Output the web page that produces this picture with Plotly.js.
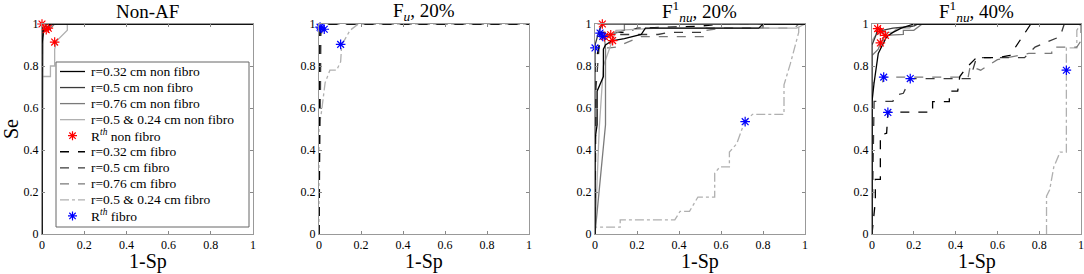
<!DOCTYPE html>
<html><head><meta charset="utf-8">
<script src="https://cdn.plot.ly/plotly-3.0.1.min.js"></script>
<style>body{margin:0;background:#fff}#plot{width:1084px;height:274px}</style>
</head><body><div id="plot"></div>
<script>
// ---------- data ----------
const panelTitles = ["Non-AF", "F<sub><i>u</i></sub>, 20%", "F<sup>1</sup><sub><i>nu</i></sub>, 20%", "F<sup>1</sup><sub><i>nu</i></sub>, 40%"];
const seriesNames = ["r=0.32 cm non fibro", "r=0.5 cm non fibro", "r=0.76 cm non fibro", "r=0.5 &amp; 0.24 cm non fibro",
  "R<sup><i>th</i></sup> non fibro", "r=0.32 cm fibro", "r=0.5 cm fibro", "r=0.76 cm fibro", "r=0.5 &amp; 0.24 cm fibro", "R<sup><i>th</i></sup> fibro"];
const tickVals = [0, 0.2, 0.4, 0.6, 0.8, 1];
const tickText = ["0", "0.2", "0.4", "0.6", "0.8", "1"];

// Panel 1: Non-AF
const p1_nf032_x = [0, 0, 0.005, 0.01, 0.02, 1];
const p1_nf032_y = [0, 0.9, 0.95, 0.98, 1, 1];
const p1_nf05_x = [0, 0, 0.01, 0.03, 0.05, 1];
const p1_nf05_y = [0, 0.93, 0.97, 0.99, 1, 1];
const p1_nf076_x = [0, 0.005, 0.02, 0.04, 0.06, 1];
const p1_nf076_y = [0, 0.96, 0.97, 0.98, 1, 1];
const p1_nf0524_x = [0, 0, 0.04, 0.04, 0.06, 0.06, 0.07, 0.1, 0.12, 0.12, 1];
const p1_nf0524_y = [0, 0.75, 0.75, 0.8, 0.8, 0.88, 0.92, 0.95, 0.97, 1, 1];
const p1_f_x = [0, 0, 1];
const p1_f_y = [0, 1, 1];
const p1_rth_nf_x = [0, 0.02, 0.03, 0.06];
const p1_rth_nf_y = [1, 0.973, 0.98, 0.914];

// Panel 2: F_u 20%
const p2_f032_x = [0, 0.005, 0.01, 0.02, 1];
const p2_f032_y = [0, 0.95, 0.98, 1, 1];
const p2_f05_x = [0, 0.003, 0.008, 0.015, 1];
const p2_f05_y = [0, 0.96, 0.985, 1, 1];
const p2_f076_x = [0, 0.01, 0.02, 0.03, 1];
const p2_f076_y = [0, 0.95, 0.975, 1, 1];
const p2_f0524_x = [0, 0, 0.013, 0.029, 0.052, 0.084, 0.103, 0.108, 0.148, 0.187, 1];
const p2_f0524_y = [0, 0.5, 0.59, 0.72, 0.78, 0.78, 0.82, 0.9, 0.97, 1, 1];
const p2_rth_f_x = [0.005, 0.01, 0.025, 0.103];
const p2_rth_f_y = [0.985, 0.98, 0.975, 0.903];

// Panel 3: F1nu 20%
const p3_nf032_x = [0, 0, 0.01, 0.01, 0.04, 0.04, 0.05, 0.08, 0.14, 0.22, 0.24, 0.78, 0.8, 1];
const p3_nf032_y = [0, 0.45, 0.52, 0.68, 0.75, 0.88, 0.9, 0.92, 0.93, 0.95, 0.98, 0.98, 1, 1];
const p3_nf05_x = [0, 0, 0.02, 0.035, 0.05, 1];
const p3_nf05_y = [0, 0.9, 0.97, 1, 1, 1];
const p3_nf076_x = [0, 0.05, 0.05, 0.05, 0.045, 0.075, 0.1, 0.14, 0.14, 1];
const p3_nf076_y = [0, 0.52, 0.58, 0.88, 0.94, 0.95, 0.96, 0.97, 1, 1];
const p3_nf0524_x = [0, 0.02, 0.04, 0.084, 0.1, 0.3, 0.96, 1];
const p3_nf0524_y = [0, 0.5, 0.8, 0.921, 0.97, 0.98, 0.98, 1];
const p3_f032_x = [0, 0, 0.02, 0.024, 0.04, 0.15, 0.2, 0.5, 0.6, 1];
const p3_f032_y = [0, 0.8, 0.9, 0.957, 0.96, 0.96, 0.98, 0.99, 1, 1];
const p3_f05_x = [0, 0.005, 0.02, 0.037, 0.1, 0.3, 0.35, 0.53, 0.53, 0.8, 0.8, 1];
const p3_f05_y = [0, 0.7, 0.9, 0.941, 0.95, 0.95, 0.96, 0.96, 0.98, 0.98, 1, 1];
const p3_f076_x = [0, 0, 0.07, 0.1, 0.22, 0.53, 0.53, 0.6, 0.95, 0.97, 1];
const p3_f076_y = [0, 0.886, 0.886, 0.89, 0.94, 0.94, 0.97, 0.98, 0.98, 1, 1];
const p3_f0524_x = [0, 0, 0.12, 0.12, 0.38, 0.405, 0.45, 0.49, 0.57, 0.57, 0.595, 0.64, 0.64, 0.675, 0.7, 0.715, 0.75, 0.9, 0.9, 0.93, 0.97, 0.97, 1];
const p3_f0524_y = [0, 0.033, 0.033, 0.067, 0.067, 0.108, 0.108, 0.176, 0.176, 0.29, 0.32, 0.32, 0.39, 0.43, 0.5, 0.535, 0.57, 0.57, 0.71, 0.81, 0.96, 1, 1];
const p3_rth_nf_x = [0.035, 0.045, 0.075, 0.084];
const p3_rth_nf_y = [1, 0.94, 0.949, 0.921];
const p3_rth_f_x = [0.024, 0.037, 0.0, 0.715];
const p3_rth_f_y = [0.957, 0.941, 0.886, 0.535];

// Panel 4: F1nu 40%
const p4_nf032_x = [0, 0, 0.01, 0.02, 0.03, 0.05, 0.07, 0.1, 0.14, 0.2, 1];
const p4_nf032_y = [0, 0.63, 0.72, 0.8, 0.86, 0.9, 0.94, 0.96, 0.98, 1, 1];
const p4_nf05_x = [0, 0, 0.02, 0.027, 0.05, 0.1, 0.2, 0.22, 1];
const p4_nf05_y = [0, 0.9, 0.95, 0.978, 0.97, 0.98, 0.99, 1, 1];
const p4_nf076_x = [0, 0, 0.03, 0.04, 0.064, 0.15, 0.15, 0.2, 0.24, 1];
const p4_nf076_y = [0, 0.85, 0.88, 0.91, 0.946, 0.95, 0.97, 0.97, 1, 1];
const p4_nf0524_x = [0, 0, 0.02, 0.06, 0.1, 0.12, 0.18, 0.2, 1];
const p4_nf0524_y = [0, 0.92, 0.95, 0.96, 0.96, 0.98, 0.98, 1, 1];
const p4_f032_x = [0, 0.016, 0.016, 0.04, 0.04, 0.07, 0.076, 0.29, 0.29, 0.37, 0.37, 0.41, 0.42, 0.45, 0.5, 0.6, 0.66, 0.74, 0.76, 1];
const p4_f032_y = [0, 0.156, 0.26, 0.26, 0.47, 0.48, 0.58, 0.58, 0.63, 0.63, 0.68, 0.68, 0.75, 0.79, 0.84, 0.84, 0.85, 0.97, 1, 1];
const p4_f05_x = [0, 0.01, 0.01, 0.1, 0.11, 0.15, 0.183, 0.2, 0.47, 0.5, 0.6, 0.73, 0.78, 0.9, 0.92, 1];
const p4_f05_y = [0, 0.6, 0.632, 0.632, 0.66, 0.67, 0.74, 0.74, 0.74, 0.84, 0.84, 0.84, 0.89, 0.94, 1, 1];
const p4_f076_x = [0, 0, 0.05, 0.056, 0.46, 0.47, 0.52, 0.6, 0.75, 0.86, 0.86, 0.98, 1, 1];
const p4_f076_y = [0, 0.72, 0.72, 0.747, 0.747, 0.8, 0.78, 0.83, 0.86, 0.86, 0.89, 0.89, 0.92, 1];
const p4_f0524_x = [0.835, 0.835, 0.85, 0.87, 0.9, 0.93, 0.93, 0.93, 0.98, 0.98, 1];
const p4_f0524_y = [0, 0.18, 0.21, 0.32, 0.39, 0.39, 0.78, 0.886, 0.886, 0.97, 1];
const p4_rth_nf_x = [0.027, 0.04, 0.064, 0.04];
const p4_rth_nf_y = [0.978, 0.965, 0.946, 0.91];
const p4_rth_f_x = [0.056, 0.183, 0.076, 0.93];
const p4_rth_f_y = [0.747, 0.74, 0.579, 0.78];

// ---------- styling ----------
const W = 1084, PLOT_TOP = 24, PLOT_BOT = 234;
const greys = ["#000000", "#3a3a3a", "#7a7a7a", "#b0b0b0"];
const FONT = "Liberation Serif, DejaVu Serif, serif";
const starPath = "M-4.5,0L4.5,0M0,-4.5L0,4.5M-3.2,-3.2L3.2,3.2M-3.2,3.2L3.2,-3.2";
function dashOf(k, dash) { return dash ? (k === 3 ? "dashdot" : "dash") : "solid"; }
const traces = [];
function line(x, y, k, dash, ax) {
  const idx = dash ? 5 + k : k;
  traces.push({x, y, type: "scatter", mode: "lines", xaxis: "x" + ax, yaxis: "y" + ax,
    name: seriesNames[idx], showlegend: false,
    line: {color: greys[k], width: 1.3, dash: dashOf(k, dash)}, hoverinfo: "skip"});
}
function stars(x, y, color, ax, idx) {
  traces.push({x, y, type: "scatter", mode: "markers", xaxis: "x" + ax, yaxis: "y" + ax,
    name: seriesNames[idx], showlegend: false, cliponaxis: false,
    marker: {symbol: "asterisk-open", size: 8, color: color, line: {color: color, width: 1.2}}, hoverinfo: "skip"});
}
// panel 1
line(p1_f_x, p1_f_y, 3, true, 1);
line(p1_f_x, p1_f_y, 2, true, 1);
line(p1_f_x, p1_f_y, 1, true, 1);
line(p1_f_x, p1_f_y, 0, true, 1);
line(p1_nf0524_x, p1_nf0524_y, 3, false, 1);
line(p1_nf076_x, p1_nf076_y, 2, false, 1);
line(p1_nf05_x, p1_nf05_y, 1, false, 1);
line(p1_nf032_x, p1_nf032_y, 0, false, 1);
stars(p1_rth_nf_x, p1_rth_nf_y, "#ff0000", 1, 4);
// panel 2
line(p2_f0524_x, p2_f0524_y, 3, true, 2);
line(p2_f076_x, p2_f076_y, 2, true, 2);
line(p2_f05_x, p2_f05_y, 1, true, 2);
line(p2_f032_x, p2_f032_y, 0, true, 2);
stars(p2_rth_f_x, p2_rth_f_y, "#0000ff", 2, 9);
// panel 3
line(p3_f0524_x, p3_f0524_y, 3, true, 3);
line(p3_f076_x, p3_f076_y, 2, true, 3);
line(p3_f05_x, p3_f05_y, 1, true, 3);
line(p3_f032_x, p3_f032_y, 0, true, 3);
line(p3_nf0524_x, p3_nf0524_y, 3, false, 3);
line(p3_nf076_x, p3_nf076_y, 2, false, 3);
line(p3_nf05_x, p3_nf05_y, 1, false, 3);
line(p3_nf032_x, p3_nf032_y, 0, false, 3);
stars(p3_rth_nf_x, p3_rth_nf_y, "#ff0000", 3, 4);
stars(p3_rth_f_x, p3_rth_f_y, "#0000ff", 3, 9);
// panel 4
line(p4_f0524_x, p4_f0524_y, 3, true, 4);
line(p4_f076_x, p4_f076_y, 2, true, 4);
line(p4_f05_x, p4_f05_y, 1, true, 4);
line(p4_f032_x, p4_f032_y, 0, true, 4);
line(p4_nf0524_x, p4_nf0524_y, 3, false, 4);
line(p4_nf076_x, p4_nf076_y, 2, false, 4);
line(p4_nf05_x, p4_nf05_y, 1, false, 4);
line(p4_nf032_x, p4_nf032_y, 0, false, 4);
stars(p4_rth_nf_x, p4_rth_nf_y, "#ff0000", 4, 4);
stars(p4_rth_f_x, p4_rth_f_y, "#0000ff", 4, 9);

const domains = [[42/W, 253/W], [319/W, 529/W], [595/W, 805/W], [872/W, 1081/W]];
const py = p => (PLOT_BOT - p) / (PLOT_BOT - PLOT_TOP);
const layout = {width: W, height: 274, margin: {l: 0, r: 0, t: PLOT_TOP, b: 274 - PLOT_BOT, autoexpand: false},
  paper_bgcolor: "#fff", plot_bgcolor: "#fff", font: {family: FONT, color: "#000", size: 11},
  showlegend: false, annotations: [], shapes: []};
for (let i = 0; i < 4; i++) {
  const s = i === 0 ? "" : String(i + 1);
  const axBase = {range: [0, 1], tickvals: tickVals, ticktext: tickText, ticks: "inside", ticklen: 3,
    tickcolor: "#888", showgrid: false, zeroline: false, showline: true, mirror: "ticks", linecolor: "#999",
    linewidth: 1, tickfont: {family: FONT, size: 12, color: "#000"}, fixedrange: true, automargin: false};
  layout["xaxis" + s] = Object.assign({}, axBase, {domain: domains[i], anchor: "y" + s, title: {text: ""}});
  layout["yaxis" + s] = Object.assign({}, axBase, {domain: [0, 1], anchor: "x" + s,
    title: i === 0 ? {text: "Se", font: {family: FONT, size: 20, color: "#000"}, standoff: 4} : {text: ""}});
  const cx = (domains[i][0] + domains[i][1]) / 2;
  layout.annotations.push({text: panelTitles[i], xref: "paper", yref: "paper",
    x: cx, y: py(12), xanchor: "center", yanchor: "middle", showarrow: false,
    font: {family: FONT, size: 19, color: "#000"}});
  layout.annotations.push({text: "1-Sp", xref: "paper", yref: "paper",
    x: cx, y: py(261), xanchor: "center", yanchor: "middle", showarrow: false,
    font: {family: FONT, size: 20, color: "#000"}});
}
// legend box drawn in panel 1 (box 56..249 x 62..227 px)
layout.shapes.push({type: "rect", xref: "paper", yref: "paper", x0: 56/W, x1: 249/W, y0: py(227), y1: py(62),
  fillcolor: "#fff", line: {color: "#666", width: 1}, layer: "above"});
const legendStyles = [[0, false], [1, false], [2, false], [3, false], ["#ff0000", "star"],
  [0, true], [1, true], [2, true], [3, true], ["#0000ff", "star"]];
legendStyles.forEach((st, j) => {
  const yc = py(71.5 + j * 16.05);
  if (st[1] === "star") {
    layout.shapes.push({type: "path", xref: "paper", yref: "paper", xsizemode: "pixel", ysizemode: "pixel",
      xanchor: 72.5/W, yanchor: yc, path: starPath, line: {color: st[0], width: 1.2}, layer: "above"});
  } else {
    layout.shapes.push({type: "line", xref: "paper", yref: "paper", x0: 60/W, x1: 85/W, y0: yc, y1: yc,
      line: {color: greys[st[0]], width: 1.3, dash: dashOf(st[0], st[1])}, layer: "above"});
  }
  layout.annotations.push({text: seriesNames[j], xref: "paper", yref: "paper", x: 89/W, y: yc,
    xanchor: "left", yanchor: "middle", showarrow: false, font: {family: FONT, size: 13.5, color: "#000"}});
});
Plotly.newPlot("plot", traces, layout, {displayModeBar: false, staticPlot: true});
</script></body></html>
